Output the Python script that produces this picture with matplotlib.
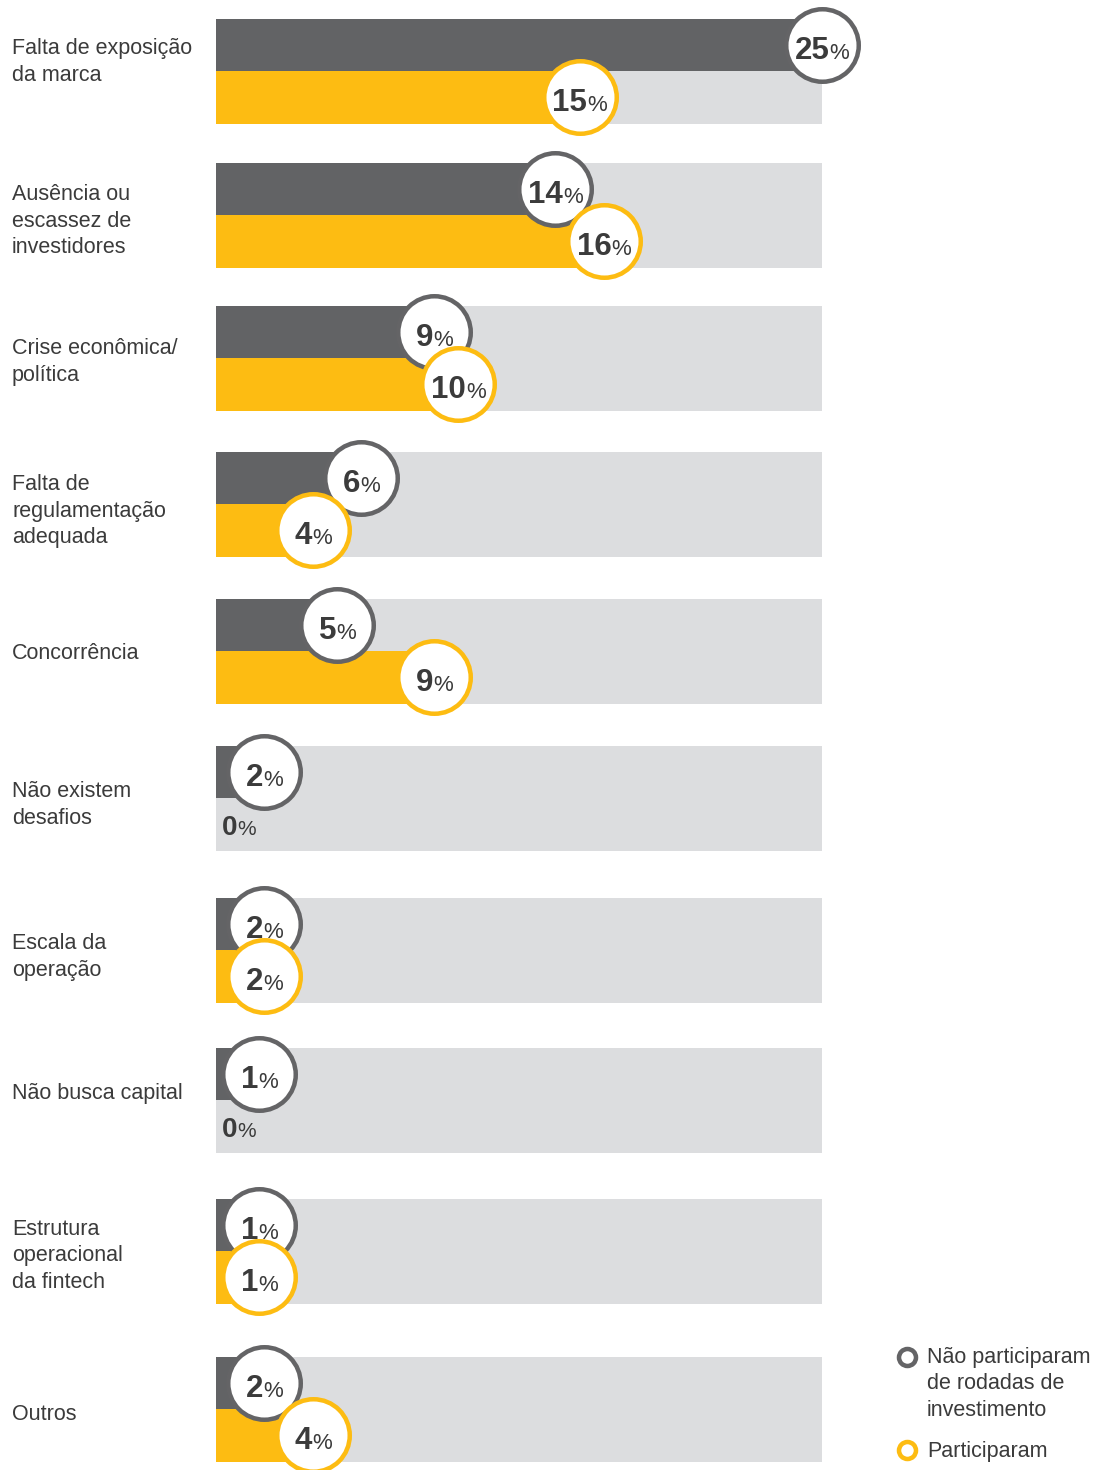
import matplotlib
matplotlib.use("Agg")
import matplotlib.pyplot as plt
from matplotlib import transforms

# ---- data -------------------------------------------------------------
categories = [
    "Falta de exposição\nda marca",
    "Ausência ou\nescassez de\ninvestidores",
    "Crise econômica/\npolítica",
    "Falta de\nregulamentação\nadequada",
    "Concorrência",
    "Não existem\ndesafios",
    "Escala da\noperação",
    "Não busca capital",
    "Estrutura\noperacional\nda fintech",
    "Outros",
]
nao_participaram = [25, 14, 9, 6, 5, 2, 2, 1, 1, 2]
participaram = [15, 16, 10, 4, 9, 0, 2, 0, 1, 4]
legend_labels = ["Não participaram\nde rodadas de\ninvestimento", "Participaram"]

# ---- layout (pixels) --------------------------------------------------
W, H = 1096, 1470
row_centers = [71, 215, 358, 504, 651, 798, 950, 1100, 1251, 1409]
label_y = [62, 221, 362, 511, 653, 805, 957, 1094, 1256, 1414]
bar_h = 52.5
x0_px, x1_px = 216, 822

DARK = "#626365"
YELLOW = "#FDBC12"
TRACK = "#DCDDDF"
TEXT = "#3B3B3B"
DARK_RING = "#646466"
FONT = "Liberation Sans"
LABEL_SIZE = 15.5

fig = plt.figure(figsize=(W / 100, H / 100), dpi=100)
renderer = fig.canvas.get_renderer()

# overlay axes in pixel units for category labels and legend
frame = fig.add_axes([0, 0, 1, 1])
frame.set_xlim(0, W)
frame.set_ylim(H, 0)
frame.axis("off")

# bar axes: x in percent, y in pixel rows
ax = fig.add_axes([x0_px / W, 0, (x1_px - x0_px) / W, 1])
vmax = max(max(nao_participaram), max(participaram))
ax.set_xlim(0, vmax)
ax.set_ylim(H, 0)
ax.axis("off")

min_center = 1.78  # keep circles clear of the left edge

dark_y = [c - bar_h / 2 for c in row_centers]
yel_y = [c + bar_h / 2 for c in row_centers]

ax.barh(row_centers, [vmax] * len(row_centers), height=2 * bar_h, color=TRACK, zorder=1)
ax.barh(dark_y, nao_participaram, height=bar_h, color=DARK, zorder=2)
ax.barh(yel_y, participaram, height=bar_h, color=YELLOW, zorder=2)

ring_d_pt = 72.5 * 72 / 100
ring_lw = 4.5 * 72 / 100


def shifted(dx, dy):
    return transforms.offset_copy(ax.transData, fig=fig, x=dx, y=dy, units="dots")


def pct_text(x, y, value, z, num_size, pct_size, centered, dy, gap=0):
    t1 = ax.text(x, y, f"{value}", ha="left", va="baseline", fontsize=num_size,
                 fontweight="bold", color=TEXT, family=FONT, zorder=z + 1,
                 clip_on=False)
    t2 = ax.text(x, y, "%", ha="left", va="baseline", fontsize=pct_size,
                 color=TEXT, family=FONT, zorder=z + 1, clip_on=False)
    w1 = t1.get_window_extent(renderer).width
    w2 = t2.get_window_extent(renderer).width
    start = -(w1 + gap + w2) / 2 if centered else 6
    t1.set_transform(shifted(start, dy))
    t2.set_transform(shifted(start + w1 + gap, dy))


def badge(x, y, value, ring, z):
    if value == 0:
        pct_text(0, y, value, z, 20, 15, False, -11)
        return
    cx = max(x, min_center)
    ax.scatter([cx], [y], s=ring_d_pt ** 2, facecolor="white", edgecolor=ring,
               linewidth=ring_lw, zorder=z, clip_on=False)
    pct_text(cx, y, value, z, 22.5, 16, True, -14)


for i in range(len(categories)):
    badge(nao_participaram[i], dark_y[i], nao_participaram[i], DARK_RING, 4)
    badge(participaram[i], yel_y[i], participaram[i], YELLOW, 6)

for lab, y in zip(categories, label_y):
    frame.text(12, y, lab, ha="left", va="center", fontsize=LABEL_SIZE, color=TEXT,
               family=FONT, linespacing=1.33)

# legend
leg_s = (17 * 0.72) ** 2
frame.scatter([907], [1357], s=leg_s, facecolor="white",
              edgecolor=DARK_RING, linewidth=4.5 * 0.72, zorder=5)
frame.scatter([907], [1450], s=leg_s, facecolor="white",
              edgecolor=YELLOW, linewidth=4.5 * 0.72, zorder=5)
frame.text(927, 1347, legend_labels[0], ha="left", va="top", fontsize=LABEL_SIZE,
           color=TEXT, family=FONT, linespacing=1.33)
frame.text(927, 1451, legend_labels[1], ha="left", va="center", fontsize=LABEL_SIZE,
           color=TEXT, family=FONT)

fig.savefig("out.png", dpi=100)
